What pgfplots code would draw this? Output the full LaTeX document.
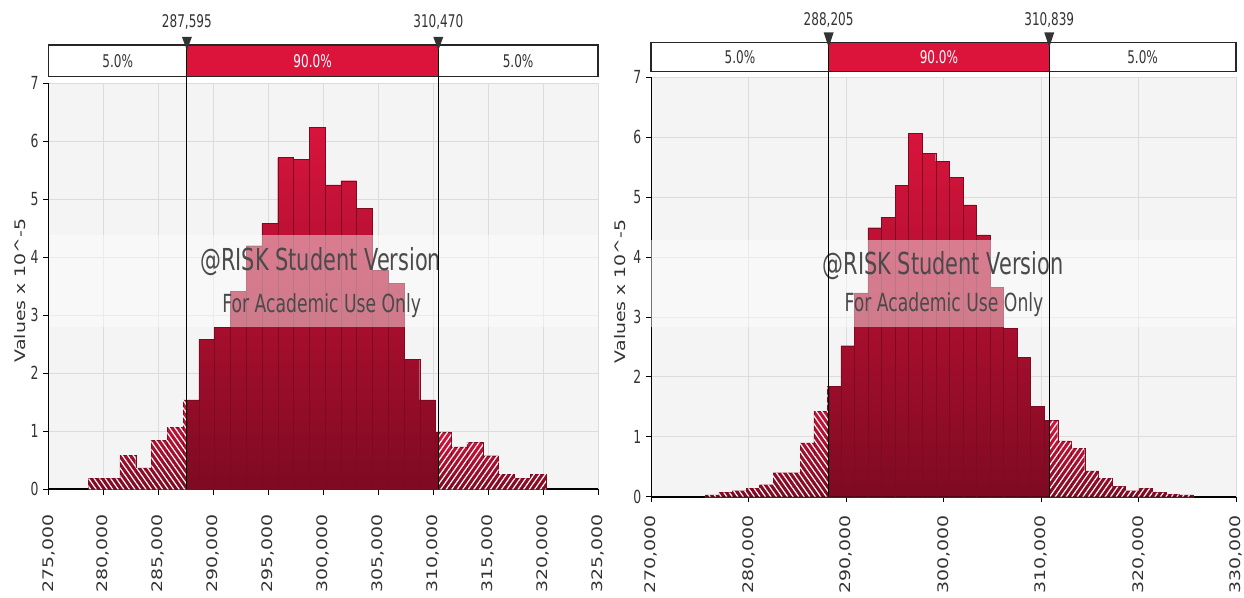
\documentclass[border=0pt]{standalone}
\usepackage{fontspec}
\usepackage{pgfplots}
\pgfplotsset{compat=1.18}
\usetikzlibrary{patterns.meta}
\setmainfont{DejaVu Sans}
\newfontfamily\narrowfont[FakeStretch=0.69]{DejaVu Sans}
\newfontfamily\tallfont[FakeStretch=1.3]{DejaVu Sans}

\definecolor{plotbg}{HTML}{F4F4F4}
\definecolor{gridc}{HTML}{DCDCDC}
\definecolor{barTop}{HTML}{D8143C}
\definecolor{barBot}{HTML}{7E0A22}
\definecolor{crimson}{HTML}{DC143C}
\definecolor{labelc}{HTML}{333333}
\definecolor{wmark}{HTML}{4A4A4A}

\tikzset{
  boxlabel/.style={font=\narrowfont\fontsize{13.1}{14}\selectfont, text=labelc},
  wm1/.style={font=\narrowfont\fontsize{22.7}{24}\selectfont, text=wmark},
  wm2/.style={font=\narrowfont\fontsize{18.7}{20}\selectfont, text=wmark},
}

\pgfplotsset{
  riskaxis/.style={
    scale only axis,
    anchor=south west,
    ymin=0, ymax=7,
    ytick={0,1,2,3,4,5,6,7},
    clip=false,
    axis x line*=bottom,
    axis y line*=left,
    x axis line style={line width=1.5pt},
    y axis line style={line width=0.75pt},
    tick align=outside,
    major tick length=4pt,
    tick style={black, line width=0.6pt},
    grid=major,
    grid style={gridc, line width=0.6pt},
    axis background/.style={fill=plotbg},
    scaled x ticks=false,
    /pgf/number format/fixed,
    /pgf/number format/1000 sep={,},
    /pgf/number format/assume math mode=true,
    xticklabel style={font=\tallfont\fontsize{10.9}{12}\selectfont, text=labelc, rotate=90, anchor=east, xshift=-11pt},
    yticklabel style={font=\narrowfont\fontsize{13.5}{14}\selectfont, text=labelc},
    ylabel={Values x 10\textasciicircum-5},
    ylabel style={font=\tallfont\fontsize{10.9}{12}\selectfont, text=labelc, anchor=center},
  },
  solidbar/.style={ybar interval, draw=barBot, line width=0.2pt, top color=barTop, bottom color=barBot},
  lhatch/.style={ybar interval, draw=none, pattern={Lines[angle=-55, distance=3.4pt, line width=0.9pt]}, pattern color=white},
  rhatch/.style={ybar interval, draw=none, pattern={Lines[angle=55, distance=3.4pt, line width=0.9pt]}, pattern color=white},
}

\pgfplotstableread{
x      y
278630 0.19
280066 0.19
281501 0.59
282937 0.37
284372 0.85
285808 1.07
287243 1.54
287595 1.54
}\leftlo
\pgfplotstableread{
x      y
287595 1.54
288679 2.59
290114 2.79
291550 3.41
292985 4.20
294421 4.59
295856 5.72
297292 5.69
298727 6.24
300163 5.25
301598 5.32
303034 4.84
304469 3.78
305905 3.55
307340 2.24
308776 1.54
310211 0.99
310470 0.99
}\leftmid
\pgfplotstableread{
x      y
310470 0.99
311647 0.73
313082 0.81
314518 0.58
315953 0.26
317389 0.19
318824 0.26
320260 0.26
}\lefthi

\pgfplotstableread{
x      y
275560 0.03
276950 0.07
278340 0.10
279730 0.14
281120 0.20
282510 0.40
283900 0.40
285290 0.90
286680 1.43
288070 1.84
288205 1.84
}\rightlo
\pgfplotstableread{
x      y
288205 1.84
289460 2.52
290850 3.40
292240 4.49
293630 4.66
295020 5.20
296410 6.07
297800 5.73
299190 5.60
300580 5.33
301970 4.87
303360 4.37
304750 3.50
306140 2.81
307530 2.33
308920 1.51
310310 1.27
310839 1.27
}\rightmid
\pgfplotstableread{
x      y
310839 1.27
311700 0.93
313090 0.81
314480 0.43
315870 0.31
317260 0.17
318650 0.10
320040 0.14
321430 0.07
322820 0.04
324210 0.03
325600 0.03
}\righthi

\begin{document}
\begin{tikzpicture}
\useasboundingbox[fill=white] (0,0) rectangle (933pt,447.75pt);

% ---------------- left histogram ----------------
\begin{axis}[riskaxis,
  at={(36.375pt,80.775pt)}, width=412.1pt, height=304.5pt,
  xmin=275000, xmax=325000,
  xtick={275000,280000,285000,290000,295000,300000,305000,310000,315000,320000,325000},
  ylabel style={at={(axis description cs:-0.052,0.49)}},
]
  \addplot[solidbar] table {\leftlo};
  \addplot[lhatch] table {\leftlo};
  \addplot[solidbar] table {\leftmid};
  \addplot[solidbar] table {\lefthi};
  \addplot[rhatch] table {\lefthi};

  % watermark
  \fill[white, opacity=0.45] (axis cs:275000,2.80) rectangle (axis cs:325000,4.38);
  \node[wm1] at (axis cs:299770,3.92) {@RISK Student Version};
  \node[wm2] at (axis cs:299860,3.16) {For Academic Use Only};

  % percentile lines
  \addplot[black, line width=0.75pt] coordinates {(287595,0) (287595,7.66)};
  \addplot[black, line width=0.75pt] coordinates {(310470,0) (310470,7.66)};

  % delimiter bar
  \fill[crimson] (axis cs:287595,7.114) rectangle (axis cs:310470,7.66);
  \draw[black!85, line width=1.1pt] (axis cs:275000,7.114) rectangle (axis cs:325000,7.66);
  \node[boxlabel] at (axis cs:281297,7.387) {5.0\%};
  \node[boxlabel, text=white] at (axis cs:299032,7.387) {90.0\%};
  \node[boxlabel] at (axis cs:317735,7.387) {5.0\%};
  \fill[black!80] (axis cs:287140,7.80) -- (axis cs:288050,7.80) -- (axis cs:287595,7.57) -- cycle;
  \fill[black!80] (axis cs:310015,7.80) -- (axis cs:310925,7.80) -- (axis cs:310470,7.57) -- cycle;
  \node[boxlabel] at (axis cs:287595,8.06) {287,595};
  \node[boxlabel] at (axis cs:310470,8.06) {310,470};
\end{axis}

% ---------------- right histogram ----------------
\begin{axis}[riskaxis,
  at={(488.4pt,75.225pt)}, width=438.6pt, height=314.55pt,
  xmin=270000, xmax=330000,
  xtick={270000,280000,290000,300000,310000,320000,330000},
  xticklabel style={xshift=4.5pt},
  ylabel style={at={(axis description cs:-0.053,0.49)}},
]
  \addplot[solidbar] table {\rightlo};
  \addplot[lhatch] table {\rightlo};
  \addplot[solidbar] table {\rightmid};
  \addplot[solidbar] table {\righthi};
  \addplot[rhatch] table {\righthi};

  \fill[white, opacity=0.45] (axis cs:270000,2.83) rectangle (axis cs:330000,4.28);
  \node[wm1] at (axis cs:299940,3.86) {@RISK Student Version};
  \node[wm2] at (axis cs:300040,3.20) {For Academic Use Only};

  \addplot[black, line width=0.75pt] coordinates {(288205,0) (288205,7.583)};
  \addplot[black, line width=0.75pt] coordinates {(310839,0) (310839,7.583)};

  \fill[crimson] (axis cs:288205,7.10) rectangle (axis cs:310839,7.583);
  \draw[black!85, line width=1.1pt] (axis cs:270000,7.10) rectangle (axis cs:330000,7.583);
  \node[boxlabel] at (axis cs:279102,7.34) {5.0\%};
  \node[boxlabel, text=white] at (axis cs:299522,7.34) {90.0\%};
  \node[boxlabel] at (axis cs:320420,7.34) {5.0\%};
  \fill[black!80] (axis cs:287692,7.75) -- (axis cs:288718,7.75) -- (axis cs:288205,7.50) -- cycle;
  \fill[black!80] (axis cs:310326,7.75) -- (axis cs:311352,7.75) -- (axis cs:310839,7.50) -- cycle;
  \node[boxlabel] at (axis cs:288205,7.96) {288,205};
  \node[boxlabel] at (axis cs:310839,7.96) {310,839};
\end{axis}
\end{tikzpicture}
\end{document}
